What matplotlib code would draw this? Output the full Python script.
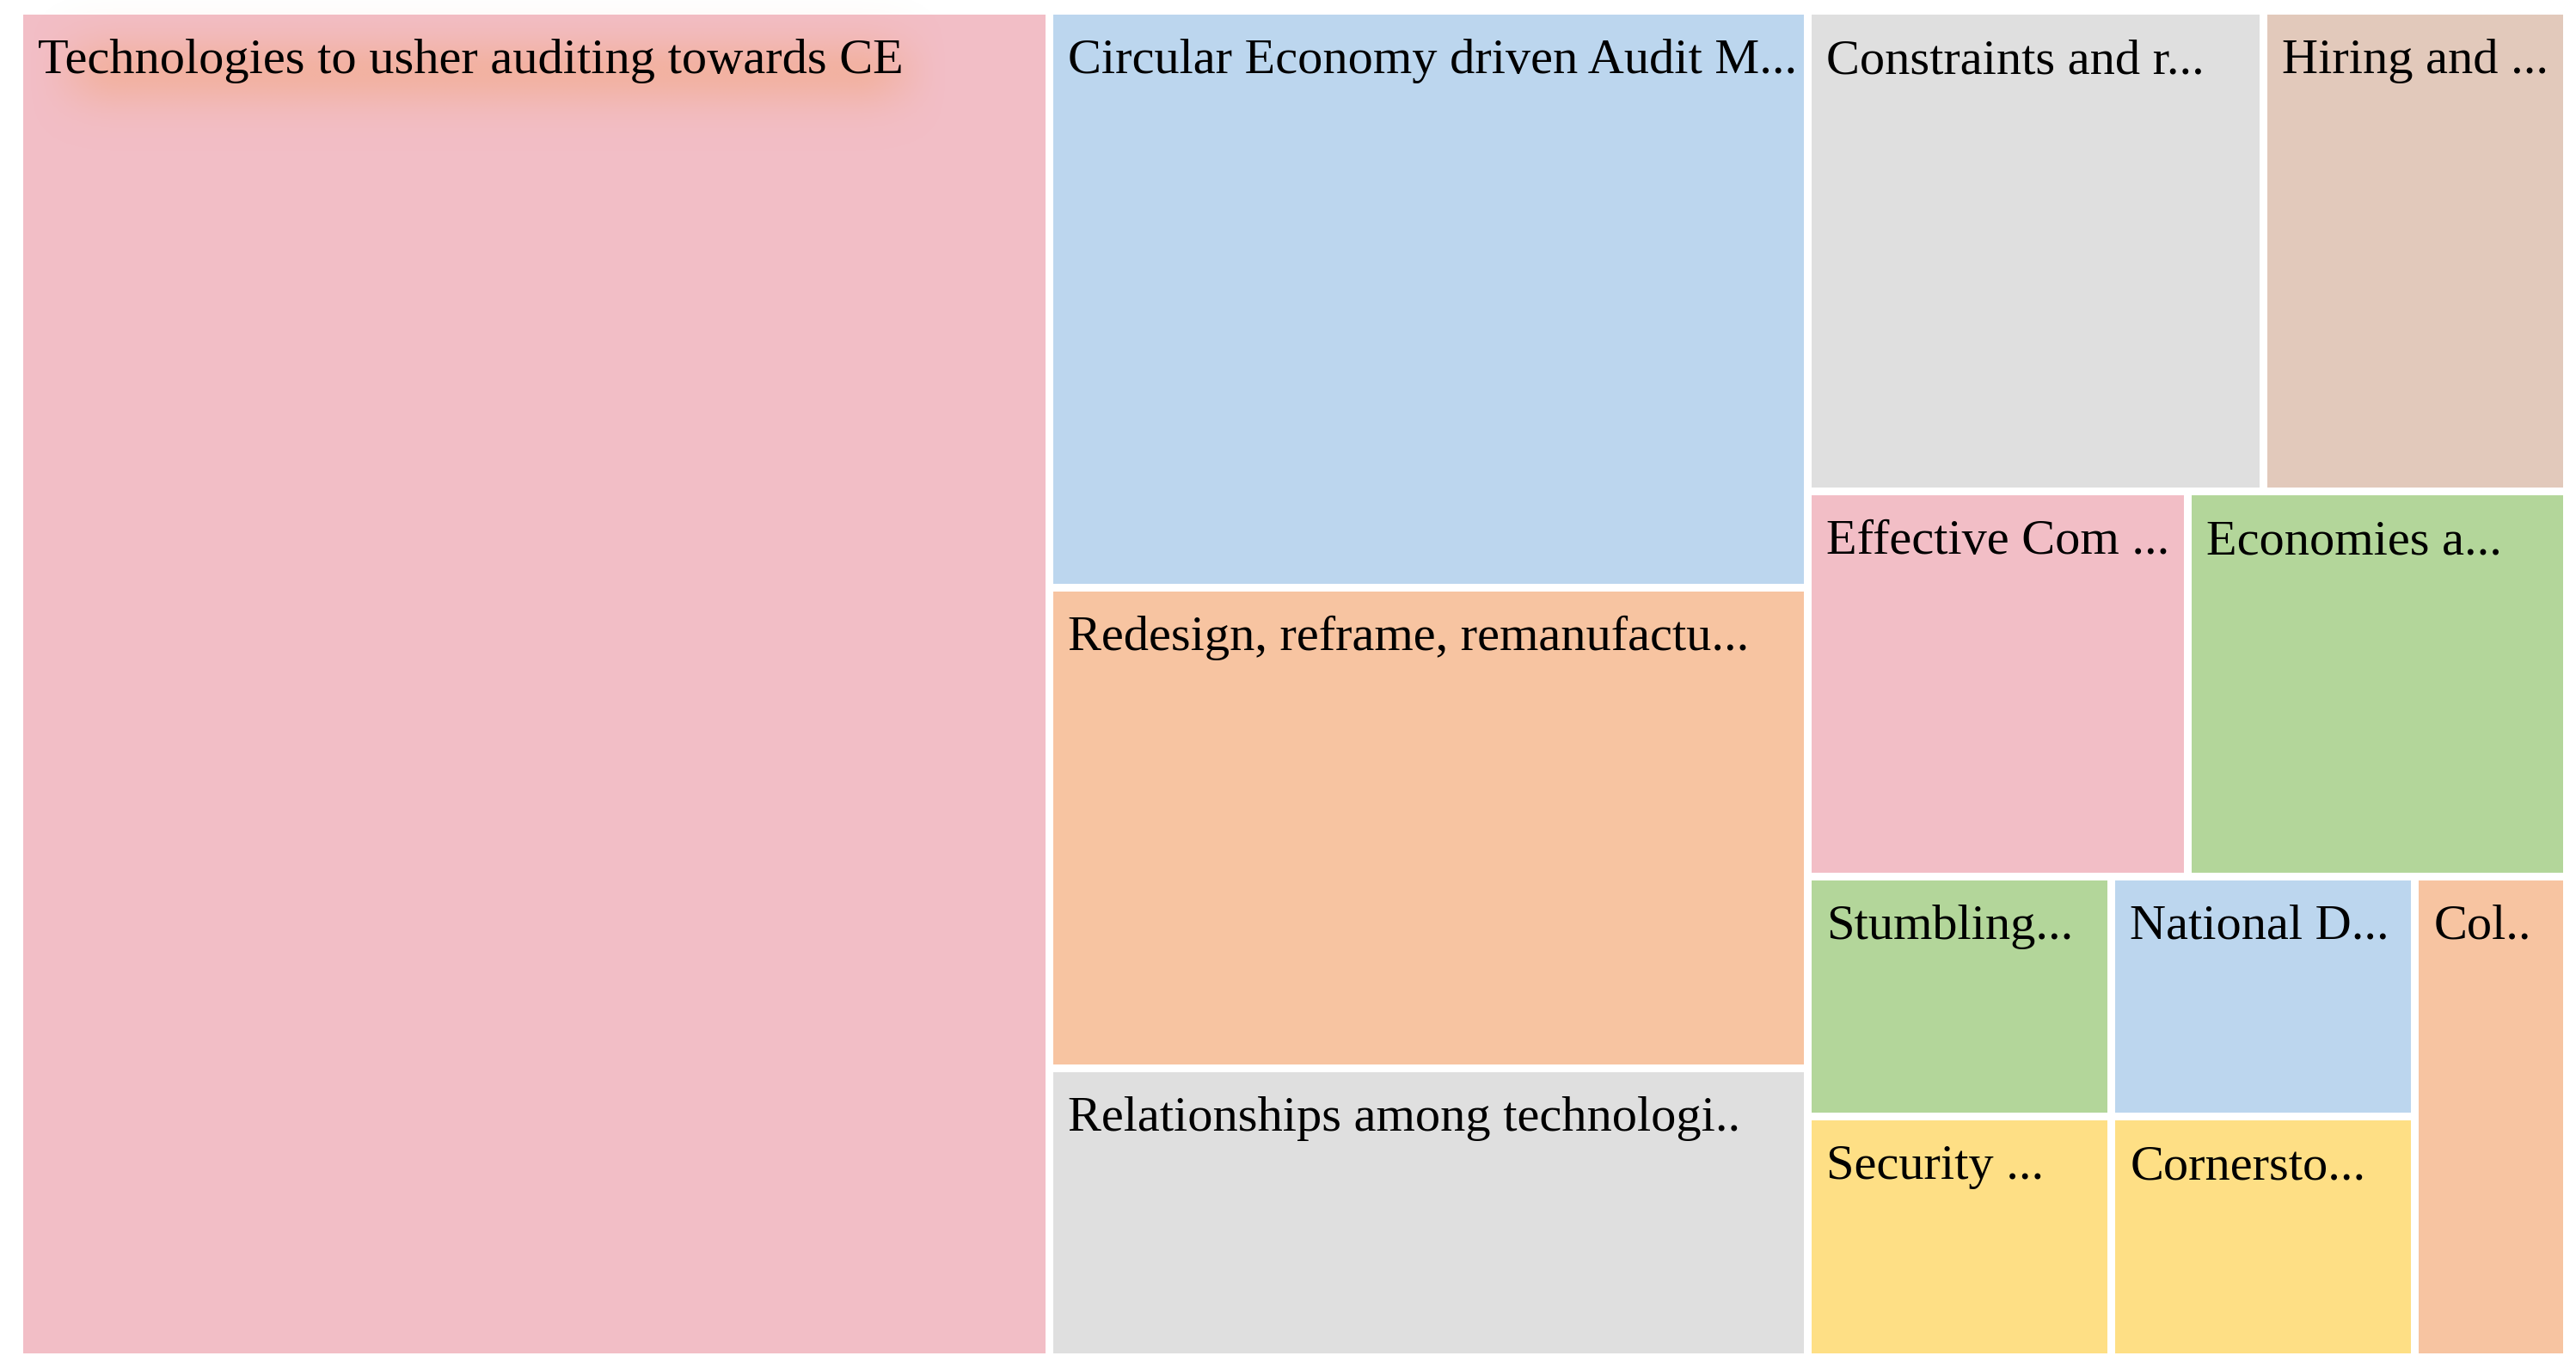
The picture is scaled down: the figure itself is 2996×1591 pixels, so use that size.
import numpy as np
import matplotlib.pyplot as plt
from matplotlib.colors import to_rgb
from matplotlib.patches import Rectangle

# --- Data (node labels as shown, and coded reference counts) ---
labels = [
    "Technologies to usher auditing towards CE",
    "Circular Economy driven Audit M...",
    "Redesign, reframe, remanufactu...",
    "Relationships among technologi..",
    "Constraints and r...",
    "Hiring and ...",
    "Effective Com ...",
    "Economies a...",
    "Stumbling...",
    "Security ...",
    "National D...",
    "Cornersto...",
    "Col..",
]
values = [19, 6, 5, 3, 3, 2, 2, 2, 1, 1, 1, 1, 1]
colors = [
    "#F2BEC6", "#BCD6EE", "#F7C4A1", "#DFDFDF", "#DFDFDF", "#E2C9BB",
    "#F2BEC6", "#B3D69A", "#B3D69A", "#FEDF85", "#BCD6EE", "#FEDF85",
    "#F7C4A1",
]

# --- Configuration ---
FIG_W, FIG_H, DPI = 2996, 1591, 100
REGION = (22.5, 12.5, 2985.5, 1578.5)  # x0, y0, x1, y1 in pixels
PAD = 4.5
RATIO = (1 + 5 ** 0.5) / 2
FONT_SIZE = 42
GLOW_COLOR = "#F4A67E"


def squarify(vals, x0, y0, x1, y1, ratio=RATIO):
    """Squarified treemap (golden ratio variant), y grows downward."""
    rects = [None] * len(vals)
    total = float(sum(vals))
    i0 = 0
    n = len(vals)
    while i0 < n:
        dx, dy = x1 - x0, y1 - y0
        i1 = i0
        s = vals[i1]
        i1 += 1
        vmin = vmax = s
        alpha = max(dy / dx, dx / dy) / (total * ratio)
        beta = s * s * alpha
        best = max(vmax / beta, beta / vmin)
        while i1 < n:
            v = vals[i1]
            s2 = s + v
            beta = s2 * s2 * alpha
            r = max(max(vmax, v) / beta, beta / min(vmin, v))
            if r > best:
                break
            s, best = s2, r
            vmin, vmax = min(vmin, v), max(vmax, v)
            i1 += 1
        if dy > dx * 1.1:
            # horizontal row along the top
            h = dy * s / total
            cx = x0
            for k in range(i0, i1):
                w = dx * vals[k] / s
                rects[k] = (cx, y0, w, h)
                cx += w
            y0 += h
        else:
            # vertical column on the left
            w = dx * s / total
            cy = y0
            for k in range(i0, i1):
                h = dy * vals[k] / s
                rects[k] = (x0, cy, w, h)
                cy += h
            x0 += w
        total -= s
        i0 = i1
    return rects


def add_glow(ax, txt, color=GLOW_COLOR, peak=0.5):
    # soft blurred highlight behind a text, sized from the rendered text box
    fig = ax.figure
    fig.canvas.draw()
    bb = txt.get_window_extent().transformed(ax.transData.inverted())
    left, right = min(bb.x0, bb.x1), max(bb.x0, bb.x1)
    top, bottom = min(bb.y0, bb.y1), max(bb.y0, bb.y1)
    gl, gr = left - 15, right + 55
    gt, gb = top - 60, bottom + 80
    xs = np.linspace(gl, gr, 600)
    ys = np.linspace(gt, gb, 160)
    fx = np.clip(np.minimum(xs - gl, gr - xs) / 110.0, 0, 1)
    fx = fx * fx * (3 - 2 * fx)
    yc = bottom - 14
    fy = np.exp(-0.5 * ((ys - yc) / 30.0) ** 2)
    a = peak * np.outer(fy, fx)
    img = np.zeros((len(ys), len(xs), 4))
    img[..., :3] = to_rgb(color)
    img[..., 3] = a
    ax.imshow(img, extent=(gl, gr, gb, gt), origin="upper", aspect="auto",
              interpolation="bilinear", zorder=2)
    ax.set_xlim(0, FIG_W)
    ax.set_ylim(FIG_H, 0)


plt.rcParams["font.family"] = ["Liberation Serif", "DejaVu Serif"]

fig = plt.figure(figsize=(FIG_W / DPI, FIG_H / DPI), dpi=DPI)
ax = fig.add_axes([0, 0, 1, 1])
ax.set_xlim(0, FIG_W)
ax.set_ylim(FIG_H, 0)
ax.axis("off")

rects = squarify(values, *REGION)
texts = []
for i, (x, y, w, h) in enumerate(rects):
    ax.add_patch(Rectangle((x + PAD, y + PAD), w - 2 * PAD, h - 2 * PAD,
                           facecolor=colors[i], edgecolor="none", zorder=1))
    texts.append(ax.text(x + PAD + 17, y + PAD + 68, labels[i], fontsize=FONT_SIZE,
                         ha="left", va="baseline", color="black", zorder=3))

add_glow(ax, texts[0])

fig.savefig("out.png", dpi=DPI, facecolor="white")
plt.close(fig)
